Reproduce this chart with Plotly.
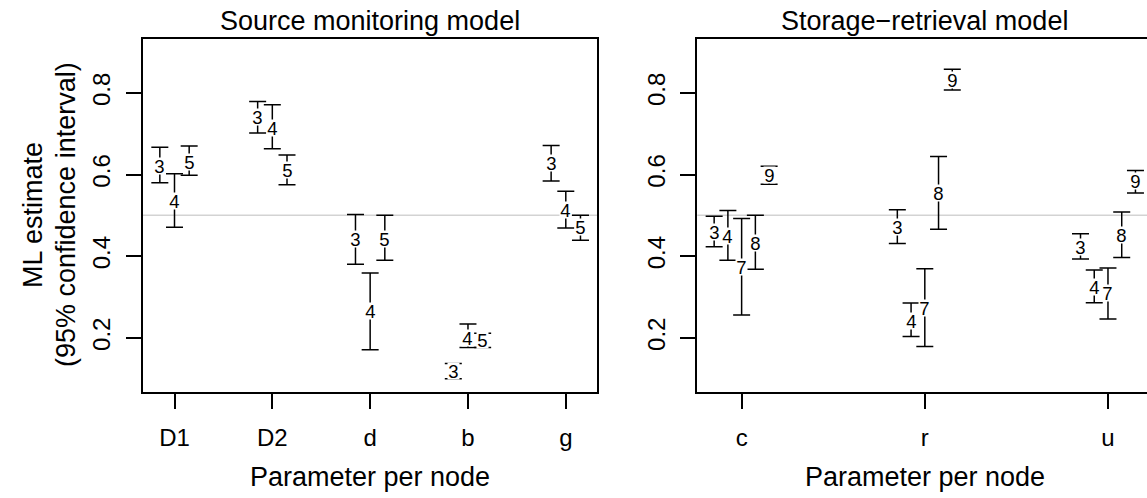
import plotly.graph_objects as go

# ---------------- data ----------------
sm_params = ["D1", "D2", "d", "b", "g"]
sm_conditions = ["3", "4", "5"]
sm_est = [
    [0.622, 0.740, 0.441, 0.118, 0.628],
    [0.534, 0.715, 0.266, 0.199, 0.512],
    [0.630, 0.610, 0.443, 0.195, 0.471],
]
sm_lower = [
    [0.580, 0.702, 0.380, 0.100, 0.584],
    [0.471, 0.663, 0.171, 0.176, 0.469],
    [0.598, 0.575, 0.390, 0.176, 0.439],
]
sm_upper = [
    [0.667, 0.779, 0.502, 0.137, 0.671],
    [0.602, 0.771, 0.359, 0.234, 0.559],
    [0.670, 0.648, 0.500, 0.211, 0.500],
]

sr_params = ["c", "r", "u"]
sr_conditions = ["3", "4", "7", "8", "9"]
sr_est = [
    [0.459, 0.472, 0.423],
    [0.449, 0.241, 0.325],
    [0.374, 0.272, 0.309],
    [0.432, 0.554, 0.451],
    [0.598, 0.831, 0.583],
]
sr_lower = [
    [0.423, 0.431, 0.393],
    [0.390, 0.203, 0.286],
    [0.256, 0.179, 0.246],
    [0.368, 0.466, 0.397],
    [0.576, 0.807, 0.555],
]
sr_upper = [
    [0.498, 0.514, 0.455],
    [0.512, 0.285, 0.366],
    [0.492, 0.369, 0.371],
    [0.500, 0.644, 0.508],
    [0.620, 0.858, 0.610],
]

reference_value = 0.5
y_ticks = [0.2, 0.4, 0.6, 0.8]

# ---------------- layout helpers ----------------
W, H = 1147, 498
FONT = "Liberation Sans, Arial, sans-serif"


def px_x(p):
    return p / W


def px_y(p):
    return 1 - p / H


fig = go.Figure()


def add_panel(params, conds, est, lo, hi, step, xa, ya):
    n = len(conds)
    offsets = [(i - (n - 1) / 2) * step for i in range(n)]
    for ci, cond in enumerate(conds):
        xs = [j + 1 + offsets[ci] for j in range(len(params))]
        ys = est[ci]
        plus = [h - e for h, e in zip(hi[ci], ys)]
        minus = [e - l for e, l in zip(ys, lo[ci])]
        fig.add_trace(go.Scatter(
            x=xs, y=ys, mode="markers",
            marker=dict(size=2, color="rgba(0,0,0,0)"),
            error_y=dict(type="data", symmetric=False, array=plus,
                         arrayminus=minus, color="black", thickness=1.5,
                         width=8.5),
            xaxis=xa, yaxis=ya, showlegend=False, hoverinfo="skip",
        ))
        for x, y in zip(xs, ys):
            fig.add_annotation(
                x=x, y=y, xref=xa, yref=ya, text=cond, showarrow=False,
                font=dict(family=FONT, size=18.5, color="black"),
                bgcolor="white", borderpad=0, xanchor="center",
                yanchor="middle", width=11, height=16,
            )


add_panel(sm_params, sm_conditions, sm_est, sm_lower, sm_upper, 0.15, "x", "y")
add_panel(sr_params, sr_conditions, sr_est, sr_lower, sr_upper, 0.075, "x2", "y2")

# reference lines
for xa, ya in (("x", "y"), ("x2", "y2")):
    fig.add_shape(type="line", xref=f"{xa} domain", yref=ya, x0=0, x1=1,
                  y0=reference_value, y1=reference_value,
                  line=dict(color="#d3d3d3", width=1.5), layer="below")

axis_common = dict(
    showgrid=False, zeroline=False, ticks="outside", ticklen=15,
    tickwidth=1.5, tickcolor="black", linecolor="black", linewidth=2,
    showline=True, automargin=False,
    tickfont=dict(family=FONT, size=24, color="black"),
)

fig.update_layout(
    width=W, height=H, margin=dict(l=0, r=0, t=0, b=0),
    template="none", paper_bgcolor="white", plot_bgcolor="white",
    showlegend=False,
    xaxis=dict(axis_common, domain=[px_x(143), px_x(597.3)],
               range=[0.678, 5.322], tickmode="array",
               tickvals=list(range(1, len(sm_params) + 1)),
               ticktext=sm_params, mirror=True, anchor="y",
               ticklabelstandoff=8),
    yaxis=dict(axis_common, domain=[px_y(391.7), px_y(39)],
               range=[0.068, 0.932], tickvals=y_ticks,
               ticktext=[f"{v:.1f}" for v in y_ticks], tickangle=-90,
               mirror=True, anchor="x", ticklabelstandoff=6),
    xaxis2=dict(axis_common, domain=[px_x(697.3), 1.0],
                range=[0.758, 3.213], tickmode="array",
                tickvals=list(range(1, len(sr_params) + 1)),
                ticktext=sr_params, mirror=True, anchor="y2",
                ticklabelstandoff=8),
    yaxis2=dict(axis_common, domain=[px_y(391.7), px_y(39)],
                range=[0.068, 0.932], tickvals=y_ticks,
                ticktext=[f"{v:.1f}" for v in y_ticks], tickangle=-90,
                mirror=False, anchor="x2", ticklabelstandoff=6),
)

title_font = dict(family=FONT, size=27, color="black")


def add_text(text, x, y, angle=0):
    fig.add_annotation(text=text, x=px_x(x), y=px_y(y), xref="paper",
                       yref="paper", showarrow=False, font=title_font,
                       textangle=angle, xanchor="center", yanchor="middle")


add_text("Source monitoring model", 370, 21)
add_text("Storage\u2212retrieval model", 925, 21)
add_text("Parameter per node", 370, 477)
add_text("Parameter per node", 925, 477)
add_text("ML estimate", 33, 215, -90)
add_text("(95% confidence interval)", 66, 215, -90)

fig.write_html("out.html")
